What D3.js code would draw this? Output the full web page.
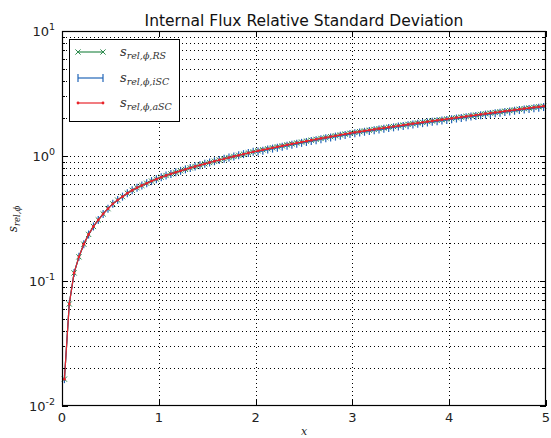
<!DOCTYPE html>
<html><head><meta charset="utf-8">
<script src="https://cdn.jsdelivr.net/npm/d3@7"></script>
<style>body{margin:0;background:#fff}svg{display:block}</style>
</head><body>
<script>
const xValues = [0.025,0.075,0.125,0.175,0.225,0.275,0.325,0.375,0.425,0.475,0.525,0.575,0.625,0.675,0.725,0.775,0.825,0.875,0.925,0.975,
1.025,1.075,1.125,1.175,1.225,1.275,1.325,1.375,1.425,1.475,1.525,1.575,1.625,1.675,1.725,1.775,1.825,1.875,1.925,1.975,
2.025,2.075,2.125,2.175,2.225,2.275,2.325,2.375,2.425,2.475,2.525,2.575,2.625,2.675,2.725,2.775,2.825,2.875,2.925,2.975,
3.025,3.075,3.125,3.175,3.225,3.275,3.325,3.375,3.425,3.475,3.525,3.575,3.625,3.675,3.725,3.775,3.825,3.875,3.925,3.975,
4.025,4.075,4.125,4.175,4.225,4.275,4.325,4.375,4.425,4.475,4.525,4.575,4.625,4.675,4.725,4.775,4.825,4.875,4.925,4.975];
const sRS = [0.0164,0.0655,0.116,0.156,0.197,0.236,0.273,0.308,0.344,0.379,0.414,0.444,0.473,0.504,0.532,0.557,0.581,0.605,0.630,0.653,
0.676,0.698,0.719,0.740,0.761,0.782,0.803,0.824,0.845,0.866,0.887,0.908,0.929,0.950,0.971,0.992,1.013,1.035,1.057,1.079,
1.100,1.121,1.142,1.163,1.184,1.205,1.227,1.249,1.271,1.293,1.315,1.337,1.359,1.382,1.405,1.428,1.451,1.474,1.497,1.520,
1.543,1.565,1.587,1.609,1.631,1.653,1.675,1.698,1.721,1.744,1.767,1.790,1.813,1.836,1.859,1.882,1.905,1.928,1.951,1.975,
1.999,2.024,2.049,2.074,2.099,2.125,2.151,2.177,2.203,2.229,2.256,2.283,2.310,2.337,2.364,2.391,2.418,2.446,2.474,2.502];
const sISC = [0.0164,0.0655,0.116,0.156,0.197,0.236,0.273,0.308,0.344,0.379,0.414,0.444,0.473,0.504,0.532,0.557,0.581,0.605,0.630,0.653,
0.676,0.698,0.719,0.740,0.761,0.782,0.803,0.824,0.845,0.866,0.887,0.908,0.929,0.950,0.971,0.992,1.013,1.035,1.057,1.079,
1.084,1.104,1.125,1.146,1.166,1.187,1.209,1.230,1.252,1.274,1.295,1.317,1.339,1.361,1.384,1.407,1.429,1.452,1.475,1.497,
1.520,1.542,1.563,1.585,1.607,1.628,1.650,1.673,1.695,1.718,1.740,1.763,1.786,1.808,1.831,1.854,1.876,1.899,1.922,1.945,
1.969,1.994,2.018,2.043,2.068,2.093,2.119,2.144,2.170,2.196,2.222,2.249,2.275,2.302,2.329,2.355,2.382,2.409,2.437,2.464];
const sASC = [0.0164,0.0655,0.116,0.156,0.197,0.236,0.273,0.308,0.344,0.379,0.414,0.444,0.473,0.504,0.532,0.557,0.581,0.605,0.630,0.653,
0.676,0.698,0.719,0.740,0.761,0.782,0.803,0.824,0.845,0.866,0.887,0.908,0.929,0.950,0.971,0.992,1.013,1.035,1.057,1.079,
1.100,1.121,1.142,1.163,1.184,1.205,1.227,1.249,1.271,1.293,1.315,1.337,1.359,1.382,1.405,1.428,1.451,1.474,1.497,1.520,
1.543,1.565,1.587,1.609,1.631,1.653,1.675,1.698,1.721,1.744,1.767,1.790,1.813,1.836,1.859,1.882,1.905,1.928,1.951,1.975,
1.999,2.024,2.049,2.074,2.099,2.125,2.151,2.177,2.203,2.229,2.256,2.283,2.310,2.337,2.364,2.391,2.418,2.446,2.474,2.502];
const xTicks = [0,1,2,3,4,5];
const yMajor = [0.01,0.1,1,10];
const yMajorExp = ["-2","-1","0","1"];
const yMinor = [0.02,0.03,0.04,0.05,0.06,0.07,0.08,0.09,0.2,0.3,0.4,0.5,0.6,0.7,0.8,0.9,2,3,4,5,6,7,8,9];
const seriesNames = ["RS","iSC","aSC"];
const titleText = "Internal Flux Relative Standard Deviation";

const W = 551, H = 438;
const L = 62, R = 546, T = 31, B = 406;
const svg = d3.select("body").append("svg").attr("width", W).attr("height", H);
const x = d3.scaleLinear().domain([0,5]).range([L,R]);
const y = d3.scaleLog().domain([0.01,10]).range([B,T]);

// grid
const grid = svg.append("g").attr("stroke","#000").attr("stroke-width",1).attr("stroke-dasharray","1,3");
grid.selectAll("line.v").data(xTicks.slice(1,-1)).join("line")
  .attr("x1",d=>Math.round(x(d))+0.5).attr("x2",d=>Math.round(x(d))+0.5).attr("y1",T).attr("y2",B);
grid.selectAll("line.h").data(yMajor.concat(yMinor).filter(d=>d>0.01&&d<10)).join("line")
  .attr("y1",d=>Math.round(y(d))+0.5).attr("y2",d=>Math.round(y(d))+0.5).attr("x1",L).attr("x2",R);

// series
const colors = {RS:"#2e8b4e", iSC:"#2065b8", aSC:"#e8242a"};
const data = {RS:sRS, iSC:sISC, aSC:sASC};
const line = d3.line().x(d=>x(d[0])).y(d=>y(d[1]));
seriesNames.forEach(name=>{
  const pts = xValues.map((xv,i)=>[xv,data[name][i]]);
  const g = svg.append("g");
  g.append("path").datum(pts).attr("d",line).attr("fill","none").attr("stroke",colors[name]).attr("stroke-width",1.2);
  if(name==="RS"){
    g.selectAll("path.m").data(pts).join("path")
      .attr("d",d=>{const cx=x(d[0]),cy=y(d[1]),s=2.6;return `M${cx-s},${cy-s}L${cx+s},${cy+s}M${cx-s},${cy+s}L${cx+s},${cy-s}`;})
      .attr("stroke",colors[name]).attr("stroke-width",1);
  } else if(name==="iSC"){
    g.selectAll("path.m").data(pts).join("path")
      .attr("d",d=>{const cx=x(d[0]),cy=y(d[1]),s=4;return `M${cx},${cy-s}L${cx},${cy+s}`;})
      .attr("stroke",colors[name]).attr("stroke-width",1.2);
  } else {
    g.selectAll("circle").data(pts).join("circle")
      .attr("cx",d=>x(d[0])).attr("cy",d=>y(d[1])).attr("r",1.4).attr("fill",colors[name]);
  }
});

// ticks
const tk = svg.append("g").attr("stroke","#000").attr("stroke-width",1);
xTicks.forEach(t=>{
  const px = Math.round(x(t))+0.5;
  tk.append("line").attr("x1",px).attr("x2",px).attr("y1",B).attr("y2",B-6);
  tk.append("line").attr("x1",px).attr("x2",px).attr("y1",T).attr("y2",T+6);
});
yMajor.forEach(t=>{
  const py = Math.round(y(t))+0.5;
  tk.append("line").attr("x1",L).attr("x2",L+6).attr("y1",py).attr("y2",py);
  tk.append("line").attr("x1",R).attr("x2",R-6).attr("y1",py).attr("y2",py);
});
yMinor.forEach(t=>{
  const py = Math.round(y(t))+0.5;
  tk.append("line").attr("x1",L).attr("x2",L+3).attr("y1",py).attr("y2",py);
  tk.append("line").attr("x1",R).attr("x2",R-3).attr("y1",py).attr("y2",py);
});
// frame
svg.append("rect").attr("x",L+0.5).attr("y",T+0.5).attr("width",R-L-1).attr("height",B-T-1)
  .attr("fill","none").attr("stroke","#000").attr("stroke-width",1.2);

// tick labels
const font = "DejaVu Sans, sans-serif";
svg.append("g").selectAll("text").data(xTicks).join("text")
  .attr("x",d=>x(d)).attr("y",B+16).attr("text-anchor","middle")
  .attr("font-family",font).attr("font-size",13).attr("fill","#222").text(d=>d);
yMajor.forEach((t,i)=>{
  const tx = svg.append("text").attr("x",L-7).attr("y",y(t)+5).attr("text-anchor","end")
    .attr("font-family",font).attr("font-size",13).attr("fill","#222");
  tx.append("tspan").text("10");
  tx.append("tspan").attr("dy",-6).attr("font-size",9.5).text(yMajorExp[i]);
});

// title
svg.append("text").attr("x",(L+R)/2).attr("y",26).attr("text-anchor","middle")
  .attr("font-family",font).attr("font-size",15.5).attr("fill","#111").text(titleText);

// axis labels
const serif = "DejaVu Serif, serif";
svg.append("text").attr("x",(L+R)/2).attr("y",435).attr("text-anchor","middle")
  .attr("font-family",serif).attr("font-style","italic").attr("font-size",11).attr("fill","#222").text("x");
const yl = svg.append("text").attr("transform","translate(17,219) rotate(-90)").attr("text-anchor","middle")
  .attr("font-family",serif).attr("font-style","italic").attr("font-size",12).attr("fill","#222");
yl.append("tspan").text("s");
yl.append("tspan").attr("dy",3).attr("font-size",8.5).text("rel,ϕ");

// legend
const lg = svg.append("g");
lg.append("rect").attr("x",69.5).attr("y",39.5).attr("width",110).attr("height",82)
  .attr("fill","#fff").attr("stroke","#000").attr("stroke-width",1);
const rowsY = [52,78,103];
seriesNames.forEach((name,i)=>{
  const ly = rowsY[i], x1 = 78, x2 = 103;
  lg.append("line").attr("x1",x1).attr("x2",x2).attr("y1",ly).attr("y2",ly).attr("stroke",colors[name]).attr("stroke-width",1.2);
  [x1,x2].forEach(mx=>{
    if(name==="RS"){
      const s=2.6;
      lg.append("path").attr("d",`M${mx-s},${ly-s}L${mx+s},${ly+s}M${mx-s},${ly+s}L${mx+s},${ly-s}`).attr("stroke",colors[name]).attr("stroke-width",1);
    } else if(name==="iSC"){
      lg.append("line").attr("x1",mx).attr("x2",mx).attr("y1",ly-4).attr("y2",ly+4).attr("stroke",colors[name]).attr("stroke-width",1.2);
    } else {
      lg.append("circle").attr("cx",mx).attr("cy",ly).attr("r",1.4).attr("fill",colors[name]);
    }
  });
  const t = lg.append("text").attr("x",120).attr("y",ly+4).attr("font-family",serif).attr("font-style","italic")
    .attr("font-size",13).attr("fill","#333");
  t.append("tspan").text("s");
  t.append("tspan").attr("dy",3).attr("font-size",9.5).text("rel,ϕ,"+name);
});
</script>
</body></html>
